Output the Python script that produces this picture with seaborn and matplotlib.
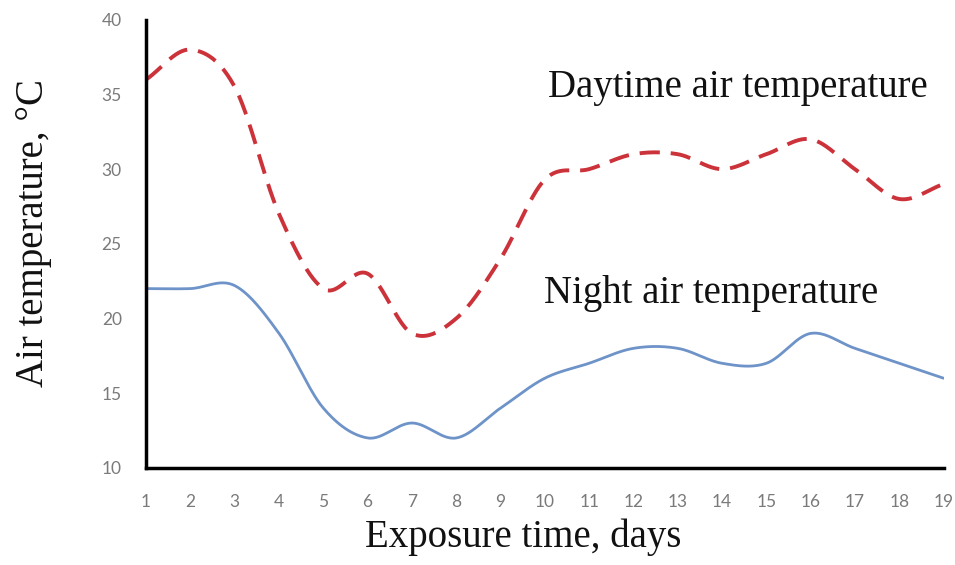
import numpy as np
import pandas as pd
import matplotlib
matplotlib.use('Agg')
import matplotlib.pyplot as plt
import seaborn as sns

# values
days = [1, 2, 3, 4, 5, 6, 7, 8, 9, 10, 11, 12, 13, 14, 15, 16, 17, 18, 19]
day_temp = [36, 38, 35.5, 27, 22, 23, 19, 20, 24, 29.3, 30, 31, 31, 30, 31, 32, 30, 28, 29]
night_temp = [22, 22, 22.2, 19, 14, 12, 13, 12, 14, 16, 17, 18, 18, 17, 17, 19, 18, 17, 16]
x_ticks = list(range(1, 20))
y_ticks = [10, 15, 20, 25, 30, 35, 40]


def smooth(x, y, n=30):
    # Excel-like smoothed line (Catmull-Rom through the data points)
    x = np.asarray(x, float)
    y = np.asarray(y, float)
    px = np.concatenate([[2 * x[0] - x[1]], x, [2 * x[-1] - x[-2]]])
    py = np.concatenate([[2 * y[0] - y[1]], y, [2 * y[-1] - y[-2]]])
    xs, ys = [], []
    t = np.linspace(0, 1, n, endpoint=False)
    for i in range(1, len(px) - 2):
        for arr, out in ((px, xs), (py, ys)):
            p0, p1, p2, p3 = arr[i - 1], arr[i], arr[i + 1], arr[i + 2]
            out.extend(0.5 * (2 * p1 + (-p0 + p2) * t
                              + (2 * p0 - 5 * p1 + 4 * p2 - p3) * t ** 2
                              + (-p0 + 3 * p1 - 3 * p2 + p3) * t ** 3))
    xs.append(x[-1])
    ys.append(y[-1])
    return np.array(xs), np.array(ys)


dx, dy = smooth(days, day_temp)
nx, ny = smooth(days, night_temp)
df_day = pd.DataFrame({'day': dx, 'temp': dy})
df_night = pd.DataFrame({'day': nx, 'temp': ny})

sns.set_style('white')
plt.rcParams['font.family'] = ['Liberation Serif', 'DejaVu Serif']

fig = plt.figure(figsize=(9.55, 5.65), dpi=100)
ax = fig.add_axes([0.153, 0.172, 0.835, 0.793])

sns.lineplot(data=df_night, x='day', y='temp', ax=ax, color='#6E93C8',
             linewidth=2.0, sort=False)
sns.lineplot(data=df_day, x='day', y='temp', ax=ax, color='#CC3239',
             linewidth=2.8, sort=False)
ax.lines[-1].set_dashes([5.2, 2.8])

ax.set_xlim(1, 19)
ax.set_ylim(10, 40)
ax.set_xticks(x_ticks)
ax.set_yticks(y_ticks)
for s in ['top', 'right']:
    ax.spines[s].set_visible(False)
for s in ['left', 'bottom']:
    ax.spines[s].set_linewidth(2.5)
    ax.spines[s].set_color('black')
ax.tick_params(axis='both', direction='out', length=5.5, width=2.5,
               color='black', labelcolor='#7a7a7a', labelsize=12.5)
ax.tick_params(axis='x', pad=13)
ax.tick_params(axis='y', pad=12)
for lab in ax.get_xticklabels() + ax.get_yticklabels():
    lab.set_family(['Lato', 'DejaVu Sans'])

ax.set_xlabel('Exposure time, days', fontsize=28, color='#111111', va='baseline')
ax.xaxis.set_label_coords(0.473, -0.176)
ax.set_ylabel('Air temperature, \u00b0C', fontsize=28, color='#111111', va='baseline')
ax.yaxis.set_label_coords(-0.129, 0.525)

ax.text(14.35, 34.84, 'Daytime air temperature', fontsize=28, color='#111111',
        ha='center', va='baseline')
ax.text(13.75, 21.05, 'Night air temperature', fontsize=28, color='#111111',
        ha='center', va='baseline')

plt.savefig('out.png', dpi=100)
